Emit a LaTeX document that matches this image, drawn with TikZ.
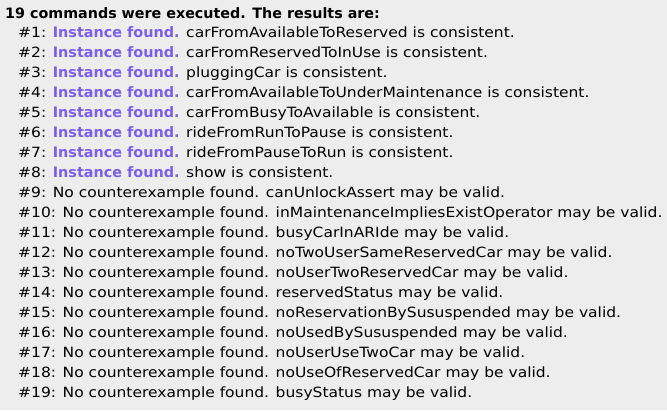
\documentclass[tikz,border=0pt]{standalone}
\usepackage{fontspec}
\setmainfont{DejaVu Sans}[FakeStretch=1.1]
\newfontfamily\boldface{DejaVu Sans}
\definecolor{panelgray}{RGB}{237,237,237}
\definecolor{foundblue}{RGB}{122,94,238}
\newcommand{\instfound}{{\boldface\bfseries\fontsize{14.4}{17}\selectfont\color{foundblue}Instance found.}}

\begin{document}
\begin{tikzpicture}[x=1pt, y=-1pt,
    every node/.style={anchor=base west, inner sep=0pt, font=\fontsize{14.1}{17}\selectfont}]
    \fill[panelgray] (0, 0) rectangle (667, 410);
    \useasboundingbox (0, 0) rectangle (667, 410);

    \node[font=\boldface\bfseries\fontsize{14.3}{17}\selectfont] (head) at (5, 18) {19 commands were executed. The results are:};

    \node (r1) at (18, 37) {\#1: \instfound{} carFromAvailableToReserved is consistent.};
    \node (r2) at (18, 57) {\#2: \instfound{} carFromReservedToInUse is consistent.};
    \node (r3) at (18, 77) {\#3: \instfound{} pluggingCar is consistent.};
    \node (r4) at (18, 97) {\#4: \instfound{} carFromAvailableToUnderMaintenance is consistent.};
    \node (r5) at (18, 117) {\#5: \instfound{} carFromBusyToAvailable is consistent.};
    \node (r6) at (18, 137) {\#6: \instfound{} rideFromRunToPause is consistent.};
    \node (r7) at (18, 157) {\#7: \instfound{} rideFromPauseToRun is consistent.};
    \node (r8) at (18, 177) {\#8: \instfound{} show is consistent.};
    \node (r9) at (18, 197) {\#9: No counterexample found. canUnlockAssert may be valid.};
    \node (r10) at (18, 217) {\#10: No counterexample found. inMaintenanceImpliesExistOperator may be valid.};
    \node (r11) at (18, 237) {\#11: No counterexample found. busyCarInARIde may be valid.};
    \node (r12) at (18, 257) {\#12: No counterexample found. noTwoUserSameReservedCar may be valid.};
    \node (r13) at (18, 277) {\#13: No counterexample found. noUserTwoReservedCar may be valid.};
    \node (r14) at (18, 297) {\#14: No counterexample found. reservedStatus may be valid.};
    \node (r15) at (18, 317) {\#15: No counterexample found. noReservationBySususpended may be valid.};
    \node (r16) at (18, 337) {\#16: No counterexample found. noUsedBySususpended may be valid.};
    \node (r17) at (18, 357) {\#17: No counterexample found. noUserUseTwoCar may be valid.};
    \node (r18) at (18, 377) {\#18: No counterexample found. noUseOfReservedCar may be valid.};
    \node (r19) at (18, 397) {\#19: No counterexample found. busyStatus may be valid.};
\end{tikzpicture}
\end{document}
